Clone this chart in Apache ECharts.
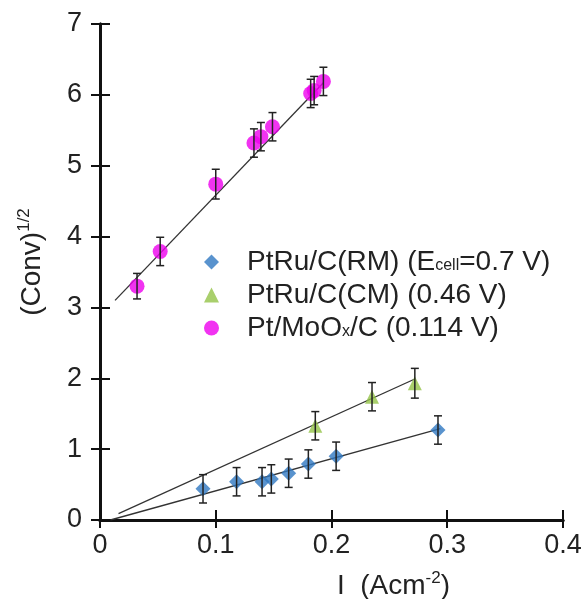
<!DOCTYPE html>
<html>
<head>
<meta charset="utf-8">
<script src="https://cdn.jsdelivr.net/npm/echarts@6/dist/echarts.min.js"></script>
<style>
html, body { margin: 0; padding: 0; background: #fff; }
#chart { width: 587px; height: 599px; }
</style>
</head>
<body>
<div id="chart"></div>
<script>
// current density (A cm-2) and (Conv)^1/2
var rm_x = [0.089, 0.118, 0.140, 0.148, 0.163, 0.180, 0.204, 0.292];
var rm_y = [0.44, 0.54, 0.54, 0.58, 0.66, 0.79, 0.90, 1.27];
var rm_err = [0.20, 0.20, 0.20, 0.20, 0.20, 0.20, 0.20, 0.20];

var cm_x = [0.186, 0.235, 0.272];
var cm_y = [1.33, 1.74, 1.93];
var cm_err = [0.20, 0.20, 0.21];

var mo_x = [0.032, 0.052, 0.100, 0.133, 0.139, 0.149, 0.182, 0.185, 0.193];
var mo_y = [3.30, 3.79, 4.74, 5.32, 5.41, 5.55, 6.02, 6.06, 6.19];
var mo_err = [0.18, 0.20, 0.21, 0.20, 0.20, 0.20, 0.20, 0.20, 0.20];

// fitted lines (end points)
var rm_fit = [[0.009, 0.0], [0.294, 1.29]];
var cm_fit = [[0.016, 0.09], [0.272, 1.99]];
var mo_fit = [[0.013, 3.10], [0.193, 6.17]];

var x_ticks = ['0', '0.1', '0.2', '0.3', '0.4'];

var names = ['PtRu/C(RM) (Ecell=0.7 V)', 'PtRu/C(CM) (0.46 V)', 'Pt/MoOx/C (0.114 V)'];

function pairs(xs, ys) {
	var out = [];
	for (var i = 0; i < xs.length; i++) {
		out.push([xs[i], ys[i]]);
	}
	return out;
}

function errData(xs, ys, es) {
	var out = [];
	for (var i = 0; i < xs.length; i++) {
		out.push([xs[i], ys[i], es[i]]);
	}
	return out;
}

function errRender(params, api) {
	var x = api.value(0);
	var y = api.value(1);
	var e = api.value(2);
	var hi = api.coord([x, y + e]);
	var lo = api.coord([x, y - e]);
	var cap = 4;
	var st = { stroke: '#222', lineWidth: 1.5 };
	return {
		type : 'group',
		children : [ {
			type : 'line',
			shape : { x1 : hi[0], y1 : hi[1], x2 : lo[0], y2 : lo[1] },
			style : st
		}, {
			type : 'line',
			shape : { x1 : hi[0] - cap, y1 : hi[1], x2 : hi[0] + cap, y2 : hi[1] },
			style : st
		}, {
			type : 'line',
			shape : { x1 : lo[0] - cap, y1 : lo[1], x2 : lo[0] + cap, y2 : lo[1] },
			style : st
		} ]
	};
}

var fontFam = '"Liberation Sans", Arial, sans-serif';
var colRM = '#2f78c2';
var colCM = '#93c347';
var colMO = '#ee00ee';

var myChart = echarts.init(document.getElementById('chart'));

var option = {
	animation : false,
	textStyle : { fontFamily : fontFam },
	grid : {
		left : 100,
		right : 24,
		top : 24,
		bottom : 79,
		containLabel : false,
		outerBoundsMode : 'none'
	},
	legend : {
		data : names,
		orient : 'vertical',
		left : 199,
		top : 243,
		itemWidth : 15,
		itemHeight : 15,
		itemGap : 5,
		formatter : function(name) {
			if (name === names[0]) {
				return '{g|}{a|PtRu/C(RM) (E}{s|cell}{a|=0.7 V)}';
			}
			if (name === names[2]) {
				return '{g|}{a|Pt/MoO}{s|x}{a|/C (0.114 V)}';
			}
			return '{g|}{a|' + name + '}';
		},
		textStyle : {
			rich : {
				g : { width : 23 },
				a : { fontSize : 28, color : '#222', fontFamily : fontFam, lineHeight : 30 },
				s : { fontSize : 16, color : '#222', fontFamily : fontFam, padding : [8, 0, 0, 0] }
			}
		}
	},
	xAxis : [ {
		type : 'value',
		min : 0,
		max : 0.4,
		interval : 0.1,
		position : 'bottom',
		name : '{a|I  (Acm}{s|-2}{a|)}',
		nameLocation : 'middle',
		nameGap : 50,
		nameTextStyle : {
			padding : [0, 0, 0, 124],
			rich : {
				a : { fontSize : 28, color : '#222', fontFamily : fontFam },
				s : { fontSize : 17, color : '#222', fontFamily : fontFam, padding : [0, 0, 15, 0] }
			}
		},
		axisLine : { lineStyle : { color : '#111', width : 3 } },
		axisTick : { inside : true, length : 10, lineStyle : { color : '#111', width : 2 } },
		axisLabel : {
			fontSize : 27,
			color : '#222',
			margin : 12,
			formatter : function(v) {
				return x_ticks[Math.round(v * 10)];
			}
		},
		splitLine : { show : false }
	}, {
		type : 'value',
		min : 0,
		max : 0.4,
		interval : 0.1,
		position : 'top',
		axisLine : { show : true, lineStyle : { color : '#111', width : 3 } },
		axisTick : { show : true, inside : true, length : 8, lineStyle : { color : '#111', width : 2 } },
		axisLabel : { show : false },
		splitLine : { show : false }
	} ],
	yAxis : [ {
		type : 'value',
		min : 0,
		max : 7,
		interval : 1,
		position : 'left',
		name : '{a|(Conv)}{s|1/2}',
		nameLocation : 'middle',
		nameRotate : 90,
		nameGap : 52,
		nameTextStyle : {
			padding : [0, 0, 0, 20],
			rich : {
				a : { fontSize : 28, color : '#222', fontFamily : fontFam },
				s : { fontSize : 17, color : '#222', fontFamily : fontFam, padding : [0, 0, 15, 0] }
			}
		},
		axisLine : { lineStyle : { color : '#111', width : 3 } },
		axisTick : { inside : true, length : 10, lineStyle : { color : '#111', width : 2 } },
		axisLabel : { fontSize : 27, color : '#222', margin : 18 },
		splitLine : { show : false }
	}, {
		type : 'value',
		min : 0,
		max : 7,
		interval : 1,
		position : 'right',
		axisLine : { show : true, lineStyle : { color : '#111', width : 3 } },
		axisTick : { show : true, inside : true, length : 9, lineStyle : { color : '#111', width : 2 } },
		axisLabel : { show : false },
		splitLine : { show : false }
	} ],
	series : [ {
		name : 'fitRM',
		type : 'line',
		data : rm_fit,
		symbol : 'none',
		lineStyle : { color : '#333', width : 1.3 },
		z : 1
	}, {
		name : 'fitCM',
		type : 'line',
		data : cm_fit,
		symbol : 'none',
		lineStyle : { color : '#333', width : 1.3 },
		z : 1
	}, {
		name : 'fitMO',
		type : 'line',
		data : mo_fit,
		symbol : 'none',
		lineStyle : { color : '#333', width : 1.3 },
		z : 1
	}, {
		name : names[0],
		type : 'scatter',
		symbol : 'diamond',
		symbolSize : 15,
		data : pairs(rm_x, rm_y),
		itemStyle : { color : colRM },
		z : 3
	}, {
		name : names[1],
		type : 'scatter',
		symbol : 'triangle',
		symbolSize : 14,
		data : pairs(cm_x, cm_y),
		itemStyle : { color : colCM },
		z : 3
	}, {
		name : names[2],
		type : 'scatter',
		symbol : 'circle',
		symbolSize : 15,
		data : pairs(mo_x, mo_y),
		itemStyle : { color : colMO },
		z : 3
	}, {
		name : 'errRM',
		type : 'custom',
		renderItem : errRender,
		data : errData(rm_x, rm_y, rm_err),
		z : 4
	}, {
		name : 'errCM',
		type : 'custom',
		renderItem : errRender,
		data : errData(cm_x, cm_y, cm_err),
		z : 4
	}, {
		name : 'errMO',
		type : 'custom',
		renderItem : errRender,
		data : errData(mo_x, mo_y, mo_err),
		z : 4
	} ]
};

myChart.setOption(option);
</script>
</body>
</html>
